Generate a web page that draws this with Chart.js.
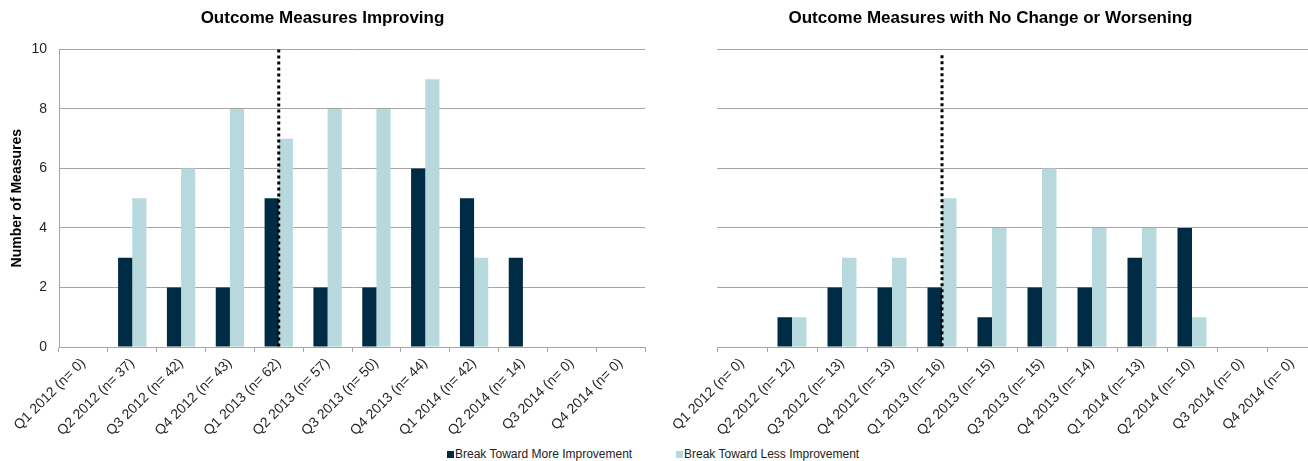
<!DOCTYPE html>
<html>
<head>
<meta charset="utf-8">
<script src="https://cdn.jsdelivr.net/npm/chart.js@4.4.1/dist/chart.umd.min.js"></script>
<style>
  html, body { margin: 0; padding: 0; background: #fff; }
  #wrap { position: relative; width: 1308px; height: 461px; overflow: hidden; font-family: "Liberation Sans", Arial, sans-serif; }
  .box { position: absolute; top: 0; height: 440px; }
  #leftBox { left: 0; width: 650px; }
  #rightBox { left: 664px; width: 666px; }
  .sw { position: absolute; top: 451px; width: 7px; height: 7px; }
  .lt { position: absolute; top: 446px; font-size: 12px; color: #222; line-height: 16px; white-space: nowrap; }
</style>
</head>
<body>
<div id="wrap">
  <div class="box" id="leftBox"><canvas id="improvingChart"></canvas></div>
  <div class="box" id="rightBox"><canvas id="worseningChart"></canvas></div>
  <div class="sw" style="left:447px;background:#002b45"></div>
  <div class="lt" style="left:455px">Break Toward More Improvement</div>
  <div class="sw" style="left:676px;background:#b7d8dc"></div>
  <div class="lt" style="left:684px">Break Toward Less Improvement</div>
</div>
<script>
/* ── Data ─────────────────────────────────────────── */
const quarters = ['Q1 2012', 'Q2 2012', 'Q3 2012', 'Q4 2012', 'Q1 2013', 'Q2 2013',
                  'Q3 2013', 'Q4 2013', 'Q1 2014', 'Q2 2014', 'Q3 2014', 'Q4 2014'];

const improvingN    = [0, 37, 42, 43, 62, 57, 50, 44, 42, 14, 0, 0];
const improvingMore = [0, 3, 2, 2, 5, 2, 2, 6, 5, 3, 0, 0];
const improvingLess = [0, 5, 6, 8, 7, 8, 8, 9, 3, 0, 0, 0];

const worseningN    = [0, 12, 13, 13, 16, 15, 15, 14, 13, 10, 0, 0];
const worseningMore = [0, 1, 2, 2, 2, 1, 2, 2, 3, 4, 0, 0];
const worseningLess = [0, 1, 3, 3, 5, 4, 6, 4, 4, 1, 0, 0];

const yTicks = [0, 2, 4, 6, 8, 10];
const dividerIndex = 4; // Q1 2013

const DARK = '#002b45';
const LIGHT = '#b7d8dc';
const GRID = '#a6a6a6';
const FONT = 'Liberation Sans';

function makeLabels(n) {
    return quarters.map((q, i) => q + ' (n= ' + n[i] + ')');
}

/* dotted divider drawn through the middle of the Q1 2013 category */
const dividerPlugin = {
    id: 'divider',
    afterDatasetsDraw(chart, args, opts) {
        const x = chart.scales.x.getPixelForValue(opts.index);
        const y0 = chart.scales.y.getPixelForValue(opts.top);
        const y1 = chart.scales.y.getPixelForValue(0);
        const ctx = chart.ctx;
        ctx.save();
        ctx.strokeStyle = '#000';
        ctx.lineWidth = 3;
        ctx.setLineDash([3, 3]);
        ctx.beginPath();
        ctx.moveTo(x, y0);
        ctx.lineTo(x, y1);
        ctx.stroke();
        ctx.restore();
    }
};

function buildChart(id, title, n, more, less, opts) {
    return new Chart(document.getElementById(id), {
        type: 'bar',
        data: {
            labels: makeLabels(n),
            datasets: [
                { label: 'Break Toward More Improvement', data: more, backgroundColor: DARK },
                { label: 'Break Toward Less Improvement', data: less, backgroundColor: LIGHT }
            ]
        },
        plugins: [dividerPlugin],
        options: {
            responsive: true,
            maintainAspectRatio: false,
            animation: false,
            datasets: { bar: { categoryPercentage: 0.58, barPercentage: 1 } },
            layout: { padding: { left: 0, right: opts.padRight, top: 0, bottom: 0 } },
            plugins: {
                legend: { display: false },
                tooltip: { enabled: false },
                divider: { index: dividerIndex, top: opts.dividerTop },
                title: {
                    display: true,
                    text: title,
                    color: '#000',
                    font: { family: FONT, size: 17, weight: 'bold' },
                    padding: { top: 8, bottom: 21 }
                }
            },
            scales: {
                x: {
                    grid: { drawOnChartArea: false, drawTicks: true, tickLength: 5, color: GRID },
                    border: { display: true, color: GRID },
                    ticks: {
                        autoSkip: false,
                        maxRotation: 45,
                        minRotation: 45,
                        padding: 3,
                        color: '#262626',
                        font: { family: FONT, size: 14 }
                    },
                    afterFit: s => { s.height = 93; s.paddingLeft = 0; s.paddingRight = 0; }
                },
                y: {
                    min: 0,
                    max: 10,
                    afterBuildTicks: s => { s.ticks = yTicks.map(v => ({ value: v })); },
                    grid: { color: GRID, drawTicks: false },
                    border: { display: opts.showYAxis, color: GRID },
                    title: {
                        display: opts.showYAxis,
                        text: 'Number of Measures',
                        color: '#000',
                        font: { family: FONT, size: 14, weight: 'bold' },
                        padding: { top: 9, bottom: 0 }
                    },
                    ticks: {
                        display: opts.showYAxis,
                        padding: 12,
                        color: '#262626',
                        font: { family: FONT, size: 14 }
                    },
                    afterFit: s => { s.width = opts.yWidth; }
                }
            }
        }
    });
}

buildChart('improvingChart', 'Outcome Measures Improving', improvingN, improvingMore, improvingLess,
    { showYAxis: true, yWidth: 59, padRight: 5, dividerTop: 10 });
buildChart('worseningChart', 'Outcome Measures with No Change or Worsening', worseningN, worseningMore, worseningLess,
    { showYAxis: false, yWidth: 53, padRight: 13, dividerTop: 9.8 });
</script>
</body>
</html>
